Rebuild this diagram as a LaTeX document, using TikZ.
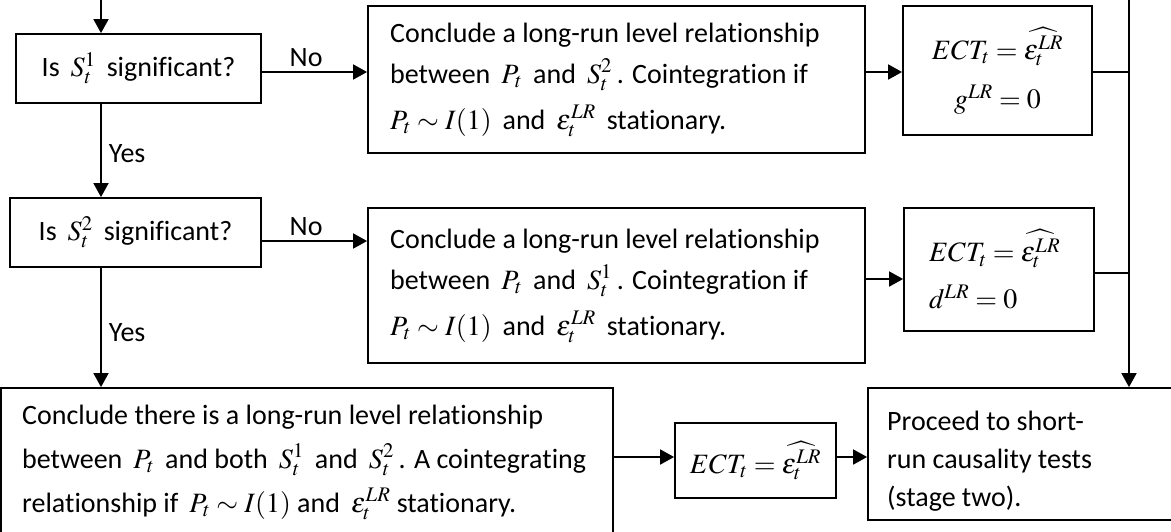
\documentclass[tikz,border=0pt]{standalone}
\usepackage{mathptmx}
\usepackage[no-math]{fontspec}
\setmainfont{Carlito}[Ligatures={NoCommon}]
\usetikzlibrary{arrows.meta}
\tikzset{
  box/.style={draw, line width=1.8pt, inner sep=0pt},
  txt/.style={font=\fontsize{28}{41}\selectfont},
  plain/.style={inner sep=0pt, align=left, anchor=west},
  arr/.style={line width=1.8pt, -{Triangle[length=14pt,width=15pt]}},
  ln/.style={line width=1.8pt},
  lab/.style={font=\fontsize{28}{32}\selectfont, inner sep=0pt}
}
\begin{document}
\begin{tikzpicture}[x=1pt,y=-1pt]
\useasboundingbox (0,0) rectangle (1171,531);
% boxes
\node[box, txt, minimum width=245pt, minimum height=69pt] (q1) at (138.5,68.5) {Is \,$S_t^1$\, significant?};
\node[box, txt, minimum width=251pt, minimum height=69pt] (q2) at (135.5,232.5) {Is \,$S_t^2$\, significant?};
\node[box, minimum width=497pt, minimum height=147pt] (c1) at (616.5,79.5) {};
\node[plain, txt] (c1t) at (390,79.5)
  {Conclude a long-run level relationship\\ between \,$P_t$\, and \,$S_t^2$\,. Cointegration if\\[5pt] $P_t\sim I(1)$\, and \,$\varepsilon_t^{LR}$\, stationary.};
\node[box, minimum width=497pt, minimum height=155pt] (c2) at (616.5,285.5) {};
\node[plain, txt] (c2t) at (390,285.5)
  {Conclude a long-run level relationship\\ between \,$P_t$\, and \,$S_t^1$\,. Cointegration if\\[5pt] $P_t\sim I(1)$\, and \,$\varepsilon_t^{LR}$\, stationary.};
\node[box, font=\fontsize{28}{49}\selectfont, minimum width=189pt, minimum height=129pt, align=center] (e1) at (997.5,70.5)
  {$ECT_t=\widehat{\varepsilon_t^{LR}}$\\ $g^{LR}=0$};
\node[box, font=\fontsize{28}{47}\selectfont, minimum width=190pt, minimum height=123pt, align=left, text width=140pt] (e2) at (999,269.5)
  {$ECT_t=\widehat{\varepsilon_t^{LR}}$\\ $d^{LR}=0$};
\node[box, minimum width=612pt, minimum height=145pt] (d1) at (307,460.5) {};
\node[plain, font=\fontsize{28}{44}\selectfont] (d1t) at (22,462)
  {Conclude there is a long-run level relationship\\ between \,$P_t$\, and both \,$S_t^1$\, and \,$S_t^2$\,. A cointegrating\\ relationship if \,$P_t\sim I(1)$ and \,$\varepsilon_t^{LR}$ stationary.};
\node[box, txt, minimum width=161pt, minimum height=75pt] (d2) at (755.5,460.5) {$ECT_t=\widehat{\varepsilon_t^{LR}}$};
\node[box, minimum width=312pt, minimum height=132pt] (d3) at (1024,454) {};
\node[plain, font=\fontsize{28}{38}\selectfont] (d3t) at (887,461)
  {Proceed to short-\\run causality tests\\(stage two).};
% connectors
\coordinate (lx) at (101,-5);
\coordinate (vx) at (1129,-5);
\draw[arr] (lx) -- (lx |- q1.north);
\draw[arr] (lx |- q1.south) -- node[lab, right=7pt, pos=0.53] {Yes} (lx |- q2.north);
\draw[arr] (lx |- q2.south) -- node[lab, right=7pt, pos=0.54] {Yes} (lx |- d1.north);
\draw[arr] ([yshift=-3.5pt]q1.east) -- node[lab, above=4pt, pos=0.42] {No} ([yshift=-3.5pt]q1.east -| c1.west);
\draw[arr] ([yshift=-8.5pt]q2.east) -- node[lab, above=4pt, pos=0.42] {No} ([yshift=-8.5pt]q2.east -| c2.west);
\draw[arr] ([yshift=-1.5pt]e1.west -| c1.east) -- ([yshift=-1.5pt]e1.west);
\draw[arr] ([yshift=-9.5pt]e2.west -| c2.east) -- ([yshift=-9.5pt]e2.west);
\draw[ln] ([yshift=-1.5pt]e1.east) -- ([yshift=-1.5pt]e1.east -| vx);
\draw[ln] ([yshift=-3.5pt]e2.east) -- ([yshift=-3.5pt]e2.east -| vx);
\draw[arr] (vx) -- (vx |- d3.north);
\draw[arr] ([yshift=3.5pt]d2.west -| d1.east) -- ([yshift=3.5pt]d2.west);
\draw[arr] ([yshift=3.5pt]d2.east) -- ([yshift=3.5pt]d2.east -| d3.west);
\end{tikzpicture}
\end{document}
